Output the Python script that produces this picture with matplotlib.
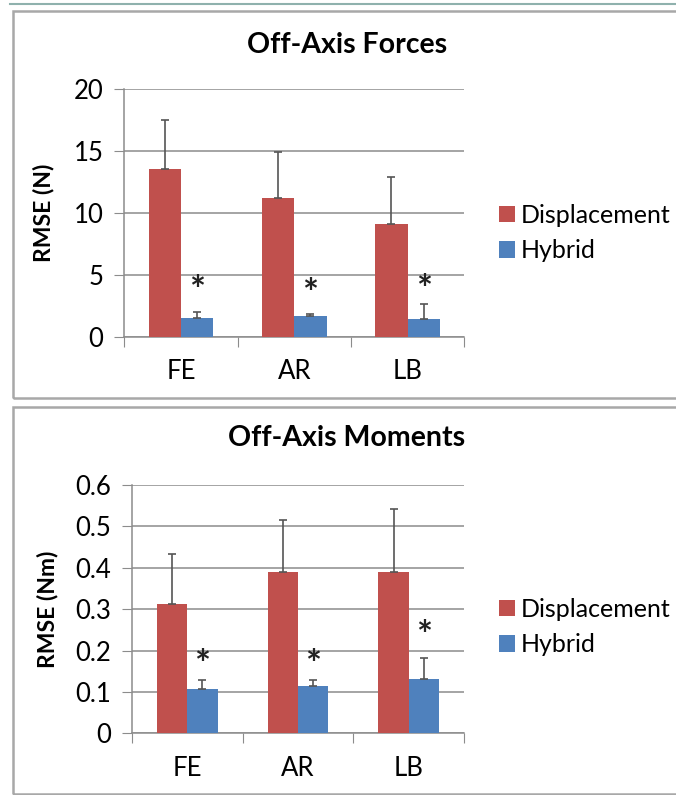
import matplotlib.pyplot as plt
from matplotlib.patches import Rectangle
from matplotlib.lines import Line2D
import numpy as np

plt.rcParams['font.family'] = ['Lato', 'DejaVu Sans']

cats = ["FE", "AR", "LB"]

force_disp = [13.55, 11.2, 9.1]
force_disp_err = [3.97, 3.77, 3.8]
force_hyb = [1.55, 1.7, 1.46]
force_hyb_err = [0.42, 0.13, 1.16]
force_star = [3.6, 3.4, 3.7]

mom_disp = [0.312, 0.390, 0.390]
mom_disp_err = [0.121, 0.125, 0.152]
mom_hyb = [0.107, 0.114, 0.132]
mom_hyb_err = [0.022, 0.015, 0.050]
mom_star = [0.163, 0.163, 0.233]

RED = "#C0504D"
BLUE = "#4F81BD"
GRID = "#8c8c8c"

fig = plt.figure(figsize=(6.76, 7.95), dpi=100)
W, H = 676, 795

# panel frames
fig.add_artist(Line2D([10 / W, 1], [1 - 4 / H, 1 - 4 / H], color="#8fb1ad", lw=1.5))
fig.add_artist(Rectangle((13 / W, 1 - 398 / H), 1.0, 387 / H, fill=False,
                         edgecolor="#a8a8a8", lw=1.8))
fig.add_artist(Rectangle((13 / W, 1 - 794 / H), 1.0, 387 / H, fill=False,
                         edgecolor="#a8a8a8", lw=1.8))


def panel(rect, disp, disp_err, hyb, hyb_err, star, title, ylabel, ymax, step,
          fmt, width, title_y, leg_y, ylab_x):
    ax = fig.add_axes(rect)
    x = np.arange(len(cats))
    ax.bar(x - width / 2, disp, width, color=RED, label="Displacement", zorder=3)
    ax.bar(x + width / 2, hyb, width, color=BLUE, label="Hybrid", zorder=3)
    ax.errorbar(x - width / 2, disp, yerr=[[0] * 3, disp_err], fmt="none",
                ecolor="#555555", elinewidth=1.2, capsize=3, capthick=1.2, zorder=4)
    ax.errorbar(x + width / 2, hyb, yerr=[[0] * 3, hyb_err], fmt="none",
                ecolor="#555555", elinewidth=1.2, capsize=3, capthick=1.2, zorder=4)
    for xi, s in zip(x + width / 2, star):
        ax.text(xi, s, "*", ha="center", va="center", fontsize=27,
                fontweight="bold", color="#222222")
    ax.set_xlim(-0.5, 2.5)
    ax.set_ylim(0, ymax)
    ticks = np.arange(0, ymax + step / 2, step)
    ax.set_yticks(ticks)
    ax.set_yticklabels([fmt(v) for v in ticks])
    ax.set_xticks([-0.5, 0.5, 1.5, 2.5])
    ax.set_xticklabels([])
    ax.set_xticks(x, minor=True)
    ax.set_xticklabels(cats, minor=True)
    ax.tick_params(axis="x", which="major", length=7, color=GRID, direction="out")
    ax.tick_params(axis="x", which="minor", length=0, labelsize=18.5, pad=16)
    ax.tick_params(axis="y", length=7, color=GRID, labelsize=18.5, pad=8)
    ax.yaxis.grid(True, color=GRID, lw=1.1, zorder=0)
    ax.set_axisbelow(True)
    for s in ["top", "right"]:
        ax.spines[s].set_visible(False)
    for s in ["left", "bottom"]:
        ax.spines[s].set_color(GRID)
        ax.spines[s].set_linewidth(1.1)
    ax.set_ylabel(ylabel, fontsize=16.5, fontweight="bold")
    ax.yaxis.set_label_coords(ylab_x, 0.5)
    fig.text(347 / W, 1 - title_y / H, title, ha="center", va="center",
             fontsize=20.5, fontweight="bold")
    ax.legend(loc="center left", bbox_to_anchor=(486 / W, 1 - leg_y / H),
              bbox_transform=fig.transFigure, frameon=False, fontsize=18,
              handlelength=0.65, handleheight=0.65, handletextpad=0.25,
              labelspacing=0.5, borderpad=0)
    return ax


panel([124.3 / W, 1 - 336.7 / H, 340 / W, 247.4 / H],
      force_disp, force_disp_err, force_hyb, force_hyb_err, force_star,
      "Off-Axis Forces", "RMSE (N)", 20, 5, lambda v: f"{v:.0f}", 0.285, 45, 233,
      -0.207)
panel([131.7 / W, 1 - 733.3 / H, 332.6 / W, 248.3 / H],
      mom_disp, mom_disp_err, mom_hyb, mom_hyb_err, mom_star,
      "Off-Axis Moments", "RMSE (Nm)", 0.6, 0.1,
      lambda v: "0" if abs(v) < 1e-9 else f"{v:.1f}", 0.275, 438, 627, -0.222)

fig.savefig("out.png", dpi=100)
